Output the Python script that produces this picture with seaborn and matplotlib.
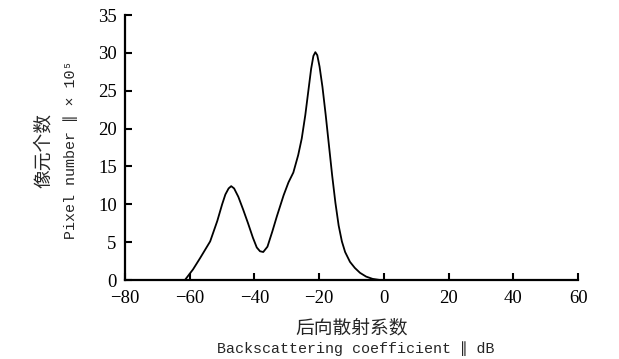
import matplotlib
matplotlib.use("Agg")
import matplotlib.pyplot as plt
import pandas as pd
import seaborn as sns

# values (backscatter dB, pixel count x1e5)
backscatter = [-61.5, -59.0, -56.8, -53.7, -51.5, -50.0, -49.0, -48.0, -47.2,
               -46.3, -45.0, -43.5, -42.0, -40.5, -39.3, -38.3, -37.3, -36.0,
               -34.5, -33.1, -31.0, -29.5, -28.0, -26.5, -25.4, -24.3, -23.3,
               -22.5, -21.8, -21.2, -20.6, -19.9, -19.0, -18.0, -17.0, -16.0,
               -15.0, -14.0, -13.0, -12.0, -10.5, -9.0, -7.4, -5.5, -3.5, -1.2]
pixels = [0.0, 1.4, 2.9, 5.1, 7.8, 10.0, 11.3, 12.1, 12.4,
          12.1, 11.0, 9.3, 7.5, 5.6, 4.3, 3.8, 3.7, 4.4,
          6.4, 8.4, 11.2, 12.9, 14.2, 16.5, 18.7, 21.8, 25.2,
          27.9, 29.6, 30.1, 29.7, 28.2, 25.5, 21.8, 17.8, 13.8,
          10.2, 7.2, 5.1, 3.7, 2.4, 1.6, 0.95, 0.45, 0.15, 0.0]

df = pd.DataFrame({"Backscatter": backscatter, "Pixels": pixels})

sns.set_style("ticks")
plt.rcParams["font.family"] = ["Liberation Serif", "Noto Sans CJK SC", "DejaVu Sans"]

fig = plt.figure(figsize=(6.19, 3.59), dpi=100)
ax = fig.add_axes([0.202, 0.22, 0.732, 0.738])

sns.lineplot(data=df, x="Backscatter", y="Pixels", color="black", linewidth=1.3, ax=ax)

ax.set_xlim(-80, 60)
ax.set_ylim(0, 35)
ax.set_xticks(range(-80, 61, 20))
ax.set_yticks(range(0, 36, 5))
ax.tick_params(direction="in", length=5, width=1.5, labelsize=13.5, colors="black")
ax.tick_params(axis="x", pad=7)
ax.tick_params(axis="y", pad=6)
for side in ["top", "right"]:
    ax.spines[side].set_visible(False)
for side in ["left", "bottom"]:
    ax.spines[side].set_linewidth(1.6)
    ax.spines[side].set_color("black")
ax.set_xlabel("")
ax.set_ylabel("")

mono = ["Liberation Mono", "DejaVu Sans Mono", "DejaVu Sans"]
cjk = ["Noto Sans CJK SC", "DejaVu Sans"]

ax.text(0.5, -0.18, "后向散射系数", transform=ax.transAxes, ha="center", va="center",
        fontsize=13.5, family=cjk)
ax.text(0.51, -0.258, "Backscattering coefficient ∥ dB", transform=ax.transAxes,
        ha="center", va="center", fontsize=10.8, family=mono)

ax.text(-0.18, 0.49, "像元个数", transform=ax.transAxes, ha="center", va="center",
        rotation=90, fontsize=13.5, family=cjk)
ax.text(-0.12, 0.49, "Pixel number ∥ × 10⁵", transform=ax.transAxes,
        ha="center", va="center", rotation=90, fontsize=10.8, family=mono)

fig.savefig("out.png", dpi=100, facecolor="white")
